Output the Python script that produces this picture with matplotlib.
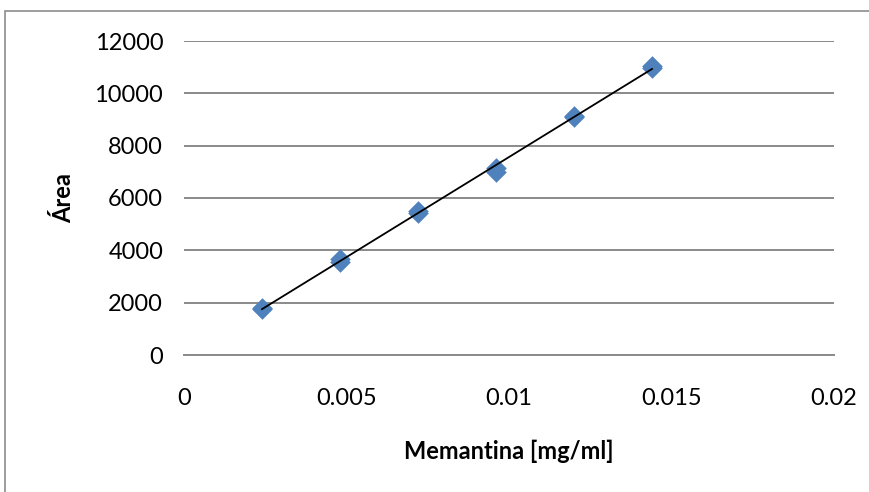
import numpy as np
import matplotlib
matplotlib.use("Agg")
import matplotlib.pyplot as plt
from matplotlib.patches import Rectangle

# memantina calibration data (replicates)
conc = [0.0024, 0.0024, 0.0048, 0.0048, 0.0072, 0.0072,
        0.0096, 0.0096, 0.012, 0.012, 0.0144, 0.0144]
area = [1760, 1800, 3560, 3660, 5440, 5490,
        7000, 7150, 9080, 9150, 10980, 11030]
xticks = [0, 0.005, 0.01, 0.015, 0.02]
xtick_labels = ["0", "0.005", "0.01", "0.015", "0.02"]
yticks = [0, 2000, 4000, 6000, 8000, 10000, 12000]

plt.rcParams['font.family'] = ['Lato', 'DejaVu Sans']

fig = plt.figure(figsize=(8.7, 4.92), dpi=100)
ax = fig.add_axes([184/870, 1 - 355/492, 650/870, 314/492])

# outer chart border
fig.patches.append(Rectangle((5/870, -0.1), 1.2, 1 - 11/492 + 0.1,
                             transform=fig.transFigure, fill=False,
                             edgecolor='#8c8c8c', linewidth=1.2))

ax.set_xlim(0, 0.02)
ax.set_ylim(0, 12000)
ax.set_xticks(xticks)
ax.set_xticklabels(xtick_labels)
ax.set_yticks(yticks)
ax.grid(axis='y', color='#8a8a8a', linewidth=1.4)
ax.set_axisbelow(True)
for s in ['left', 'right', 'top']:
    ax.spines[s].set_visible(False)
ax.spines['bottom'].set_color('#8a8a8a')
ax.spines['bottom'].set_linewidth(1.4)
ax.tick_params(length=0, labelsize=17, colors='black')
ax.tick_params(axis='x', pad=24)
ax.tick_params(axis='y', pad=15)

# linear trendline
k, b = np.polyfit(conc, area, 1)
xl = np.array([min(conc), max(conc)])
ax.scatter(conc, area, marker='D', s=110, color='#4f81bd', zorder=3, linewidths=0)
ax.plot(xl, k * xl + b, color='black', linewidth=1.3, zorder=4)

ax.set_xlabel("Memantina [mg/ml]", fontsize=17, fontweight='bold', labelpad=22)
ax.set_ylabel("Área", fontsize=17, fontweight='bold', labelpad=14)

fig.savefig("out.png", dpi=100)
